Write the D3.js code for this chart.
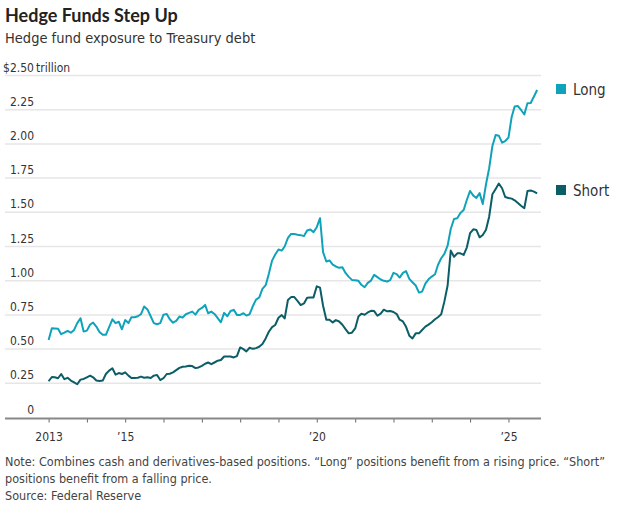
<!DOCTYPE html>
<html>
<head>
<meta charset="utf-8">
<script src="https://cdn.jsdelivr.net/npm/d3@7"></script>
<style>
  body { margin: 0; background: #fff; }
  svg text { font-family: "Liberation Sans Narrow", "DejaVu Sans Condensed", Roboto, sans-serif; fill: #333; }
  .title { font-family: Lato, Roboto, sans-serif; font-weight: 700; fill: #222; }
</style>
</head>
<body>
<div id="chart"></div>
<script>
// monthly values, Jan 2013 - Oct 2025, $ trillions
const startMonth = "2013-01";
const longValues = [
  0.567, 0.652, 0.650, 0.648, 0.609, 0.620, 0.633, 0.620, 0.640, 0.690, 0.726, 0.628,
  0.635, 0.680, 0.694, 0.665, 0.625, 0.604, 0.604, 0.660, 0.718, 0.690, 0.700, 0.645,
  0.712, 0.690, 0.733, 0.733, 0.740, 0.755, 0.812, 0.790, 0.740, 0.690, 0.682, 0.690,
  0.752, 0.756, 0.718, 0.693, 0.706, 0.738, 0.730, 0.755, 0.765, 0.774, 0.752, 0.787,
  0.801, 0.823, 0.762, 0.774, 0.757, 0.726, 0.696, 0.765, 0.740, 0.779, 0.787, 0.750,
  0.750, 0.762, 0.745, 0.755, 0.813, 0.862, 0.877, 0.940, 0.967, 1.050, 1.147, 1.191,
  1.228, 1.220, 1.250, 1.313, 1.342, 1.341, 1.336, 1.333, 1.326, 1.367, 1.374, 1.355,
  1.391, 1.457, 1.209, 1.140, 1.148, 1.118, 1.104, 1.094, 1.099, 1.057, 1.028, 1.006,
  1.004, 0.999, 0.970, 0.952, 0.984, 1.001, 1.043, 1.026, 1.009, 0.999, 0.994, 1.004,
  1.057, 1.048, 1.023, 1.057, 1.070, 1.013, 0.989, 0.965, 0.913, 0.920, 0.979, 1.010,
  1.030, 1.047, 1.115, 1.164, 1.196, 1.256, 1.378, 1.451, 1.456, 1.495, 1.517, 1.590,
  1.656, 1.622, 1.605, 1.640, 1.560, 1.705, 1.822, 1.985, 2.065, 2.060, 2.009, 2.021,
  2.046, 2.199, 2.273, 2.277, 2.248, 2.215, 2.297, 2.299, 2.346, 2.394
];
const shortValues = [
  0.265, 0.296, 0.294, 0.287, 0.318, 0.280, 0.290, 0.270, 0.257, 0.243, 0.277, 0.282,
  0.294, 0.306, 0.294, 0.270, 0.267, 0.270, 0.318, 0.343, 0.360, 0.313, 0.325, 0.318,
  0.330, 0.306, 0.289, 0.289, 0.291, 0.299, 0.291, 0.294, 0.289, 0.306, 0.311, 0.274,
  0.287, 0.318, 0.320, 0.330, 0.346, 0.363, 0.371, 0.373, 0.378, 0.376, 0.361, 0.366,
  0.378, 0.393, 0.402, 0.390, 0.402, 0.415, 0.420, 0.446, 0.446, 0.446, 0.439, 0.449,
  0.512, 0.500, 0.483, 0.510, 0.502, 0.507, 0.517, 0.537, 0.578, 0.627, 0.661, 0.676,
  0.729, 0.749, 0.724, 0.859, 0.880, 0.880, 0.853, 0.822, 0.834, 0.876, 0.878, 0.878,
  0.959, 0.949, 0.817, 0.715, 0.715, 0.695, 0.712, 0.702, 0.678, 0.646, 0.615, 0.620,
  0.651, 0.739, 0.759, 0.751, 0.768, 0.780, 0.778, 0.744, 0.759, 0.788, 0.776, 0.778,
  0.771, 0.756, 0.715, 0.702, 0.663, 0.598, 0.578, 0.615, 0.615, 0.640, 0.664, 0.679,
  0.696, 0.718, 0.733, 0.754, 0.847, 0.965, 1.220, 1.175, 1.200, 1.200, 1.188, 1.242,
  1.347, 1.376, 1.371, 1.317, 1.334, 1.373, 1.468, 1.632, 1.671, 1.710, 1.676, 1.612,
  1.605, 1.600, 1.588, 1.568, 1.548, 1.530, 1.655, 1.659, 1.651, 1.639
];
const seriesNames = ["Long", "Short"];
const seriesColors = ["#0fa3bb", "#0b5d66"];
const yTicks = [0, 0.25, 0.5, 0.75, 1, 1.25, 1.5, 1.75, 2, 2.25, 2.5];
const xTickYears = d3.range(2013, 2026);
const xTickLabels = { 2013: "2013", 2015: "\u201915", 2020: "\u201920", 2025: "\u201925" };

const width = 628, height = 513;
const gridLeft = 5, gridRight = 541;

const parseMonth = d3.timeParse("%Y-%m");
const t0 = parseMonth(startMonth);
const dates = longValues.map((d, i) => d3.timeMonth.offset(t0, i));

const x = d3.scaleTime()
  .domain([new Date(2013, 0, 1), new Date(2026, 0, 1)])
  .range([48.6, 48.6 + 13 * 38.32]);

const y = d3.scaleLinear()
  .domain([0, 2.5])
  .range([417.5, 75.5]);

const svg = d3.select("#chart").append("svg")
  .attr("width", width)
  .attr("height", height);

// titles
svg.append("text").attr("class", "title")
  .attr("x", 5).attr("y", 22)
  .style("font-size", "18px")
  .text("Hedge Funds Step Up");
svg.append("text")
  .attr("x", 5).attr("y", 43)
  .style("font-size", "14.5px")
  .style("fill", "#333")
  .text("Hedge fund exposure to Treasury debt");

// y grid + labels
const grid = svg.append("g");
grid.selectAll("line")
  .data(yTicks.filter(d => d > 0))
  .join("line")
  .attr("x1", gridLeft).attr("x2", gridRight)
  .attr("y1", d => y(d)).attr("y2", d => y(d))
  .attr("stroke", "#e6e6e6")
  .attr("stroke-width", 1.5);

grid.selectAll("text")
  .data(yTicks)
  .join("text")
  .attr("x", 34)
  .attr("y", d => y(d) - 4)
  .attr("text-anchor", "end")
  .style("font-size", "12px")
  .text(d => d === 0 ? "0" : (d === 2.5 ? "$" : "") + d3.format(".2f")(d));

svg.append("text")
  .attr("x", 36).attr("y", y(2.5) - 4)
  .style("font-size", "12px")
  .text("trillion");

// x axis
const xAxis = d3.axisBottom(x)
  .tickValues(xTickYears.map(yr => new Date(yr, 0, 1)))
  .tickSize(4)
  .tickFormat(d => xTickLabels[d.getFullYear()] || "");

const gx = svg.append("g")
  .attr("transform", `translate(0,${y(0) + 1})`)
  .call(xAxis);
gx.select(".domain").remove();
gx.selectAll(".tick line").attr("stroke", "#666").attr("stroke-width", 1);
gx.selectAll(".tick text")
  .attr("dy", "1.25em")
  .style("font-size", "12px")
  .style("fill", "#333");
gx.append("line")
  .attr("x1", gridLeft).attr("x2", gridRight)
  .attr("y1", 0).attr("y2", 0)
  .attr("stroke", "#888")
  .attr("stroke-width", 2);

// lines
const line = d3.line()
  .x((d, i) => x(dates[i]))
  .y(d => y(d));

[longValues, shortValues].forEach((vals, k) => {
  svg.append("path")
    .datum(vals)
    .attr("fill", "none")
    .attr("stroke", seriesColors[k])
    .attr("stroke-width", 2)
    .attr("stroke-linejoin", "round")
    .attr("d", line);
});

// legend
const legendY = [89, 190];
seriesNames.forEach((name, k) => {
  svg.append("rect")
    .attr("x", 556).attr("y", legendY[k] - 5)
    .attr("width", 10).attr("height", 10)
    .attr("fill", seriesColors[k]);
  svg.append("text")
    .attr("x", 573).attr("y", legendY[k] + 5.5)
    .style("font-size", "15px")
    .style("fill", "#333")
    .text(name);
});

// notes
const notes = [
  "Note: Combines cash and derivatives-based positions. \u201cLong\u201d positions benefit from a rising price. \u201cShort\u201d",
  "positions benefit from a falling price.",
  "Source: Federal Reserve"
];
svg.selectAll(".note")
  .data(notes)
  .join("text")
  .attr("class", "note")
  .attr("x", 5)
  .attr("y", (d, i) => 466 + i * 17)
  .style("font-size", "12.5px")
  .style("fill", "#444")
  .text(d => d);
</script>
</body>
</html>
